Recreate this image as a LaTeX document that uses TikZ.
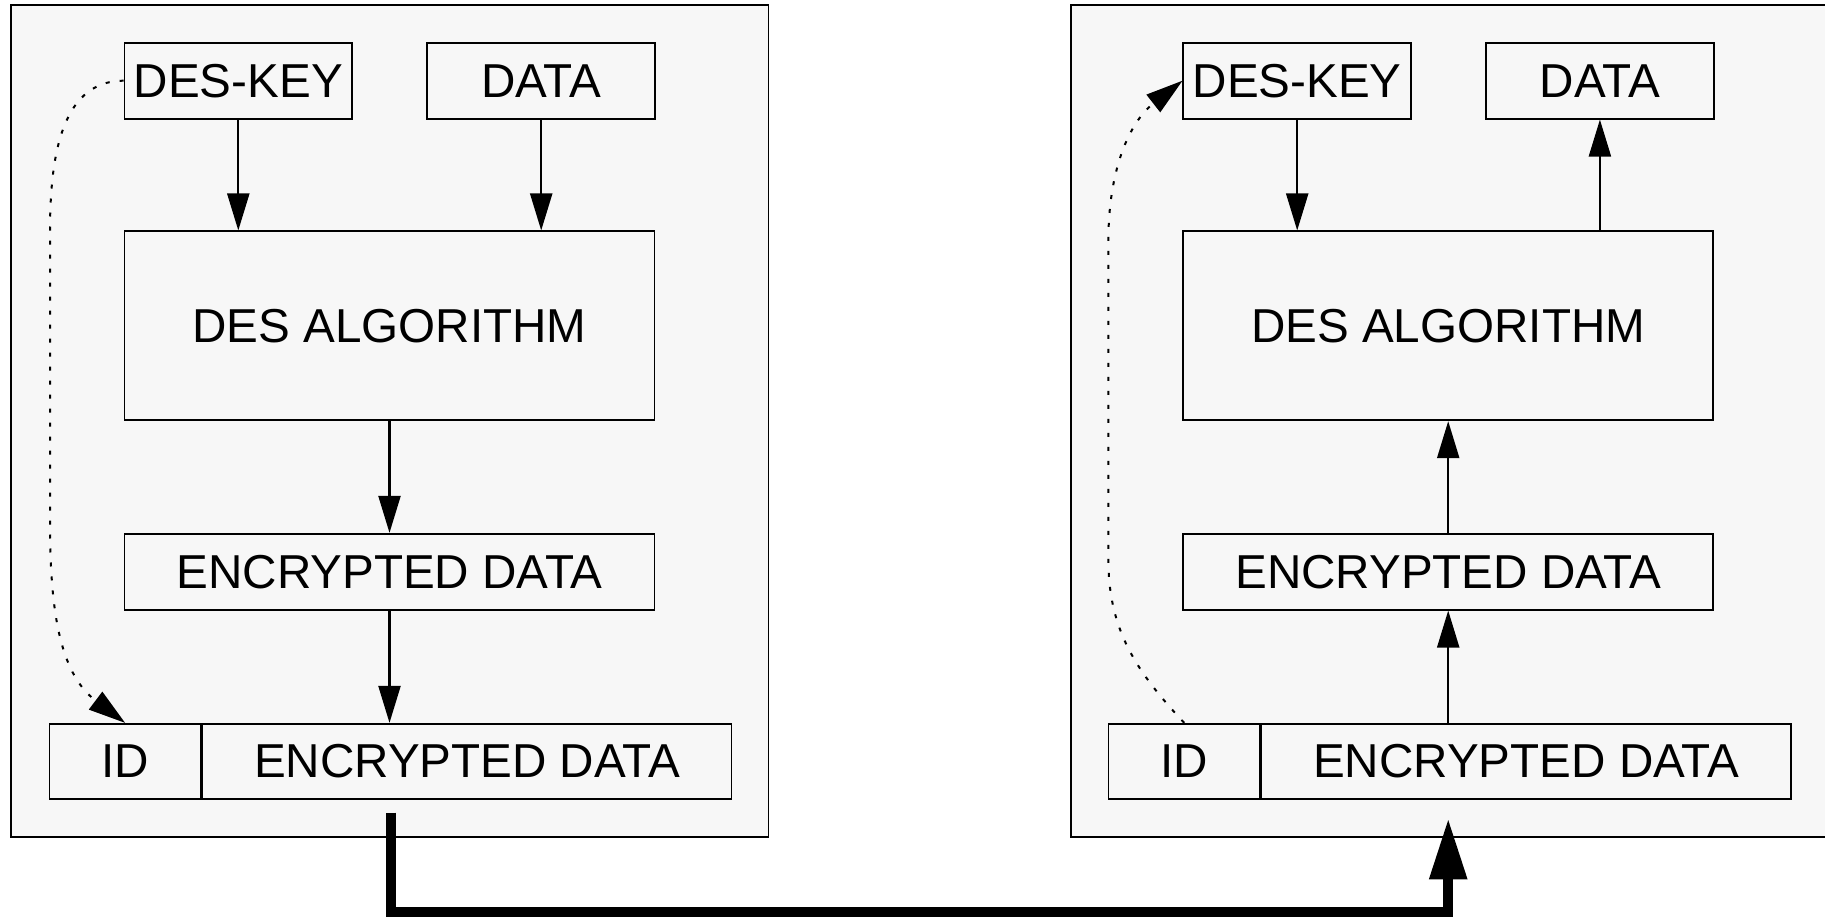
\documentclass[tikz,border=0pt]{standalone}
\usepackage{fontspec}
\setmainfont{Liberation Sans}
\usetikzlibrary{arrows.meta, positioning}
\definecolor{desgrey}{HTML}{F7F7F7}
\tikzset{
  >={Triangle[length=18.5pt, width=11pt]},
  panel/.style={rectangle, draw, line width=0.85pt, fill=desgrey, inner sep=0pt,
                minimum width=378.8pt, minimum height=416pt},
  box/.style={rectangle, draw, line width=0.85pt, fill=desgrey, inner sep=0pt,
              minimum height=38pt, font=\fontsize{23.8pt}{28pt}\selectfont},
  keybox/.style={box, minimum width=113.9pt},
  widebox/.style={box, minimum width=265.1pt},
  idbox/.style={box, minimum width=75.6pt, minimum height=37.5pt},
  cellbox/.style={box, minimum width=264.6pt, minimum height=37.5pt},
  flow/.style={->, line width=1.1pt},
  flowd/.style={->, line width=1pt, dash pattern=on 2pt off 5pt},
  wire/.style={-{Triangle[length=30.5pt, width=17.8pt]}, line width=5pt},
}

\begin{document}
\begin{tikzpicture}[x=0.5pt, y=0.5pt]
  \useasboundingbox (0,0) rectangle (1825,-918);

  % sender
  \node[panel] (lpanel) at (389.8,-420.7) {};
  \node[keybox] (lkey) at (238.3,-80.7) {DES-KEY};
  \node[keybox] (ldata) at (541.2,-80.7) {DATA};
  \node[widebox, minimum height=94.5pt] (lalg) at (389.5,-325.8) {DES ALGORITHM};
  \node[widebox] (lenc) at (389.5,-571.7) {ENCRYPTED DATA};
  \node[idbox] (lid) at (125.1,-761.2) {ID};
  \node[cellbox, right=0pt of lid] (lcell) {ENCRYPTED DATA};
  \coordinate (lbend1) at (50,-233);
  \coordinate (lbend2) at (50,-520);

  \draw[flow] (lkey.south) -- (lkey.south |- lalg.north);
  \draw[flow] (ldata.south) -- (ldata.south |- lalg.north);
  \draw[flow] (lalg) -- (lenc);
  \draw[flow] (lenc.south) -- (lenc.south |- lcell.north);
  \draw[flowd] (lkey.west) to[out=180, in=90] (lbend1) -- (lbend2)
    to[out=-90, in=143] (lid.north);

  % receiver
  \node[panel] (rpanel) at (1449.6,-420.7) {};
  \node[keybox] (rkey) at (1297.2,-80.7) {DES-KEY};
  \node[keybox] (rdata) at (1599.9,-80.7) {DATA};
  \node[widebox, minimum height=94.5pt] (ralg) at (1448.2,-325.8) {DES ALGORITHM};
  \node[widebox] (renc) at (1448.2,-571.7) {ENCRYPTED DATA};
  \node[idbox] (rid) at (1184.2,-761.2) {ID};
  \node[cellbox, right=0pt of rid] (rcell) {ENCRYPTED DATA};
  \coordinate (rbend1) at (1108.4,-560);
  \coordinate (rbend2) at (1108.4,-240);

  \draw[flow] (rkey.south) -- (rkey.south |- ralg.north);
  \draw[flow] (rdata.south |- ralg.north) -- (rdata.south);
  \draw[flow] (renc) -- (ralg);
  \draw[flow] (renc.south |- rcell.north) -- (renc.south);
  \draw[flowd] (rid.north) to[out=133, in=-90] (rbend1) -- (rbend2)
    to[out=90, in=218] (rkey.west);

  % transfer
  \coordinate (lout) at (390.5,-812.7);
  \coordinate (rlow) at (1448.2,-912);
  \coordinate (rin) at (1448.2,-818.3);
  \draw[wire] (lout) |- (rlow) -- (rin);
\end{tikzpicture}
\end{document}
